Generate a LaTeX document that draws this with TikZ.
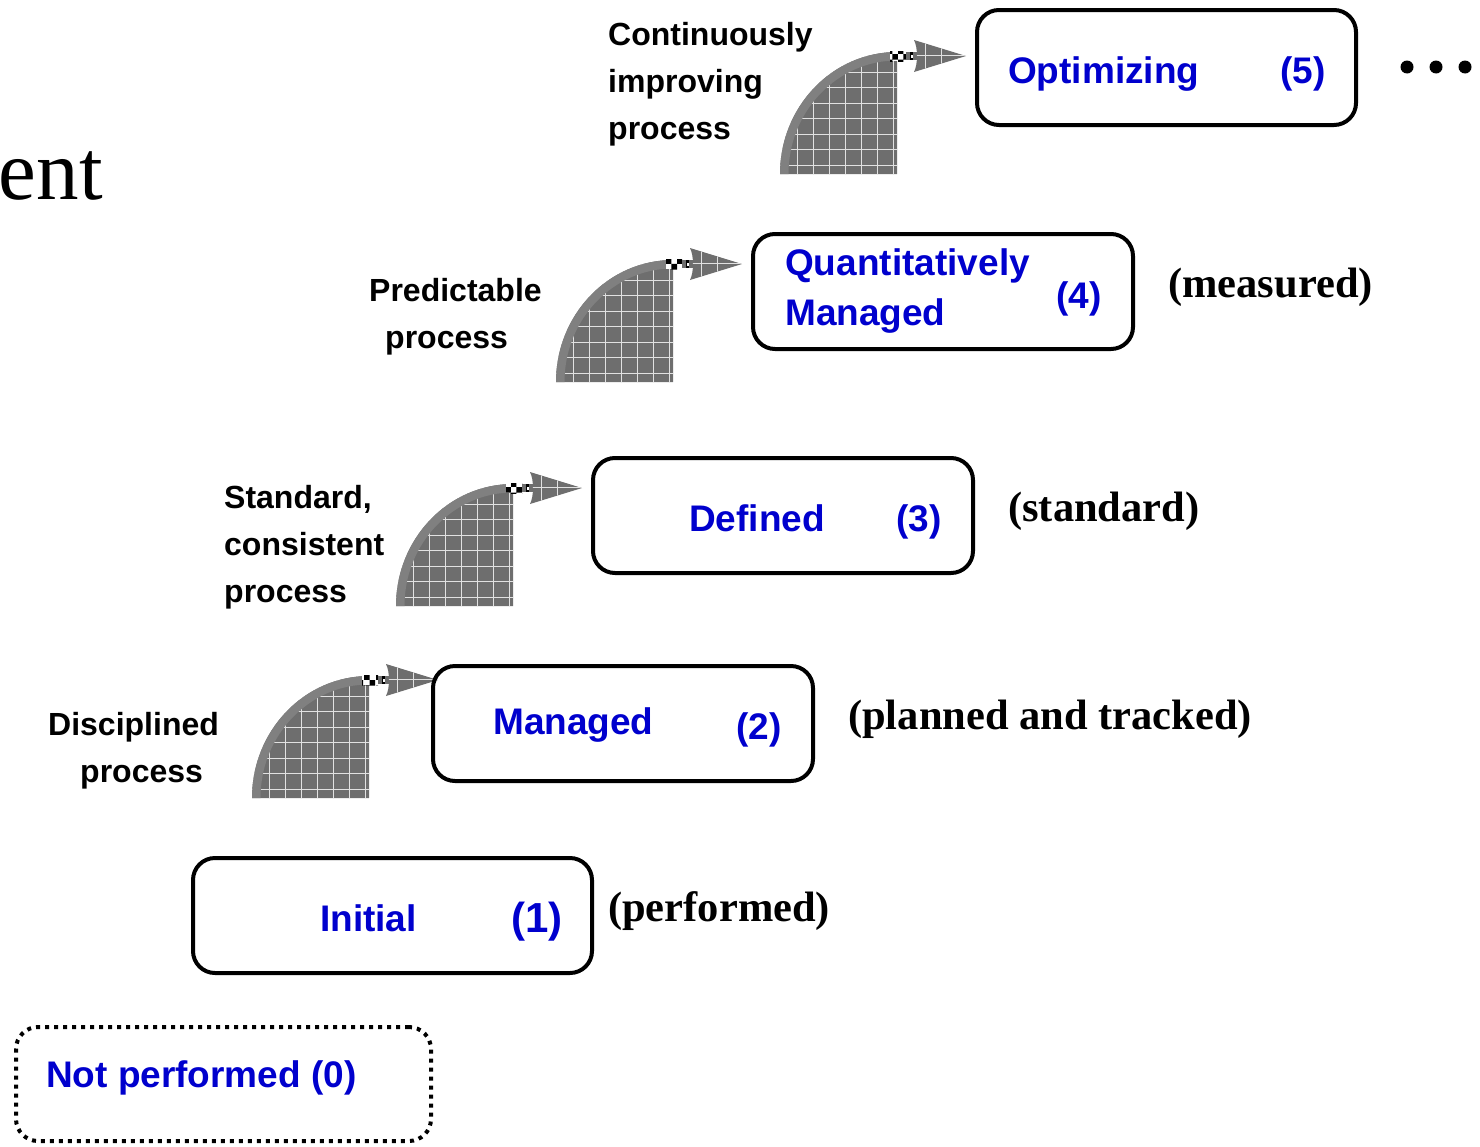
\documentclass[tikz,border=0pt]{standalone}
\usepackage{fontspec}
\setmainfont{Liberation Serif}
\newfontfamily\arialfont{Liberation Sans}
\usetikzlibrary{patterns}

\definecolor{stageblue}{RGB}{0,0,205}
\definecolor{stairfill}{RGB}{110,110,110}
\definecolor{stairband}{RGB}{128,128,128}
\definecolor{stairgrid}{RGB}{225,225,225}

\tikzset{
  lbl/.style={font=\arialfont\bfseries\fontsize{32}{36}\selectfont, anchor=base west, inner sep=0pt},
  stg/.style={font=\arialfont\bfseries\fontsize{37}{44}\selectfont, text=stageblue, anchor=base west, inner sep=0pt},
  stgbig/.style={stg, font=\arialfont\bfseries\fontsize{42}{48}\selectfont},
  qual/.style={font=\bfseries\fontsize{42.5}{50}\selectfont, anchor=base west, inner sep=0pt},
  stagebox/.style={draw, line width=4pt, rounded corners=22pt, inner sep=0pt,
    minimum width=380pt, minimum height=115pt},
  openbox/.style={stagebox, dash pattern=on 4pt off 5pt, minimum width=415pt, minimum height=114pt},
  % quarter-disc step with a small arrow leaving its top edge;
  % the pic origin is the bottom-right corner of the disc
  stair/.pic={
    \fill[stairfill] (-117,0) .. controls (-117,-67.4) and (-64.6,-122) .. (0,-122) -- (0,0) -- cycle;
    \begin{scope}
      \clip (-117,0) .. controls (-117,-67.4) and (-64.6,-122) .. (0,-122) -- (0,0) -- cycle;
      \foreach \k in {0,...,7} \draw[stairgrid, line width=0.9pt] (-4-16*\k,-126) -- (-4-16*\k,2);
      \foreach \k in {0,...,7} \draw[stairgrid, line width=0.9pt] (-121,-9-15.5*\k) -- (2,-9-15.5*\k);
      \draw[stairband, line width=17pt] (-117,0) .. controls (-117,-67.4) and (-64.6,-122) .. (0,-122);
    \end{scope}
    % shaft
    \fill[white] (-7,-123) rectangle (9,-113);
    \fill[pattern=checkerboard, pattern color=black] (-7,-123) rectangle (9,-113);
    \fill[stairfill] (9,-122) rectangle (20,-114);
    \fill[black] (13,-122) rectangle (16,-114);
    \fill[white] (13.5,-119.5) rectangle (15.5,-116.5);
    % head
    \fill[stairfill] (17,-134) -- (69,-118) -- (17,-102) .. controls (21,-110) and (21,-126) .. cycle;
    \begin{scope}
      \clip (17,-134) -- (69,-118) -- (17,-102) .. controls (21,-110) and (21,-126) .. cycle;
      \draw[stairgrid, line width=0.9pt] (17,-118.5) -- (70,-118.5);
      \foreach \u in {28,44} \draw[stairgrid, line width=0.9pt] (\u,-136) -- (\u,-100);
    \end{scope}
  }
}

\begin{document}
\begin{tikzpicture}[x=1pt, y=-1pt]
\useasboundingbox (0,0) rectangle (1480,1146);

% heading word running in from the left edge
\begin{scope}
  \clip (0,0) rectangle (1480,1146);
  \node[font=\fontsize{85}{100}\selectfont, anchor=base east, inner sep=0pt] (title) at (103,199) {ment};
\end{scope}

% steps
\pic at (897,174) {stair};
\pic at (673,382) {stair};
\pic at (513,606) {stair};
\pic at (369,798) {stair};

% level boxes
\node[stagebox, minimum width=379pt] (opt) at (1166.5,67.5) {};
\node[stagebox] (qm) at (943,291.5) {};
\node[stagebox] (def) at (783,515.5) {};
\node[stagebox] (man) at (623,723.5) {};
\node[stagebox, minimum width=399pt] (ini) at (392.5,915.5) {};
\node[openbox] (np) at (223.5,1084) {};

% level names
\node[stg] (optname) at (1008,83) {Optimizing};
\node[stg] (optnum) at (1280,83) {(5)};
\node[stg] (qmname1) at (785,275) {Quantitatively};
\node[stg] (qmname2) at (785,325) {Managed};
\node[stg] (qmnum) at (1056,308) {(4)};
\node[stg] (defname) at (689,531) {Defined};
\node[stg] (defnum) at (896,531) {(3)};
\node[stg] (manname) at (493,734) {Managed};
\node[stg] (mannum) at (736,739) {(2)};
\node[stg] (ininame) at (320,931) {Initial};
\node[stgbig] (ininum) at (511,932) {(1)};
\node[stg] (npname) at (46,1087) {Not performed (0)};

% process descriptions
\node[lbl] (c1) at (608,45) {Continuously};
\node[lbl] (c2) at (608,92) {improving};
\node[lbl] (c3) at (608,139) {process};
\node[lbl] (p1) at (369,301) {Predictable};
\node[lbl] (p2) at (385,348) {process};
\node[lbl] (s1) at (224,508) {Standard,};
\node[lbl] (s2) at (224,555) {consistent};
\node[lbl] (s3) at (224,602) {process};
\node[lbl] (d1) at (48,735) {Disciplined};
\node[lbl] (d2) at (80,782) {process};

% qualifiers
\node[qual] (q4) at (1168,297) {(measured)};
\node[qual] (q3) at (1008,521) {(standard)};
\node[qual] (q2) at (848,729) {(planned and tracked)};
\node[qual] (q1) at (608,921) {(performed)};

% continuation dots
\foreach \dx [count=\i] in {1407,1436,1465}
  \fill (\dx,67) circle (6.5pt) coordinate (dot\i);
\end{tikzpicture}
\end{document}
